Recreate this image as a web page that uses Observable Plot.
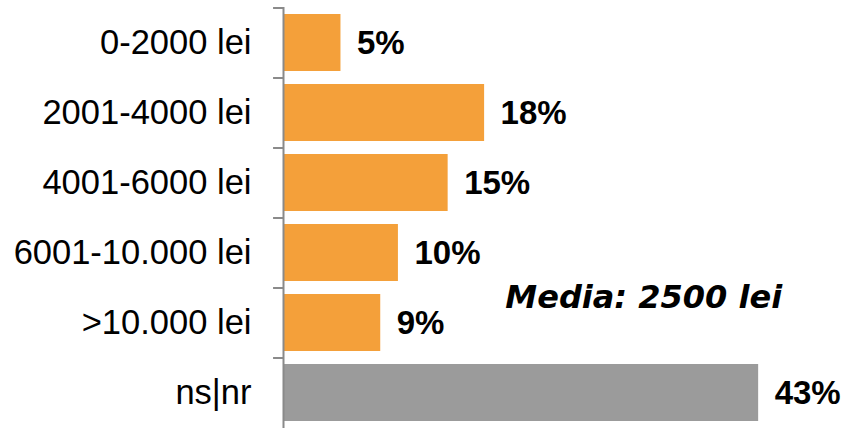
<!DOCTYPE html>
<html>
<head>
<meta charset="utf-8">
<script src="https://cdn.jsdelivr.net/npm/d3@7"></script>
<script src="https://cdn.jsdelivr.net/npm/@observablehq/plot@0.6"></script>
<style>
  html, body { margin: 0; padding: 0; background: #fff; }
  #chart { width: 846px; height: 428px; overflow: hidden; }
</style>
</head>
<body>
<div id="chart"></div>
<script>
const categories = ["0-2000 lei", "2001-4000 lei", "4001-6000 lei", "6001-10.000 lei", ">10.000 lei", "ns|nr"];
const values = [5.2, 18.2, 14.9, 10.4, 8.8, 43];
const valueLabels = ["5%", "18%", "15%", "10%", "9%", "43%"];
const barColors = ["#F4A03A", "#F4A03A", "#F4A03A", "#F4A03A", "#F4A03A", "#9B9B9B"];
const mediaText = "Media: 2500 lei";

const data = categories.map((c, i) => ({cat: c, value: values[i], label: valueLabels[i], color: barColors[i]}));

const chart = Plot.plot({
  width: 846,
  height: 428,
  marginLeft: 283,
  marginRight: 10.5,
  marginTop: 7,
  marginBottom: 0,
  style: {fontFamily: "'Liberation Sans', Arial, sans-serif", background: "#fff"},
  x: {domain: [0, 50], axis: null},
  y: {domain: categories, paddingInner: 0.19, paddingOuter: 0.1, axis: null, label: null},
  color: {type: "identity"},
  marks: [
    Plot.barX(data, {x: "value", y: "cat", fill: "color"}),
    Plot.text(data, {x: "value", y: "cat", text: "label", textAnchor: "start", dx: 16,
      fontWeight: "bold", fontSize: 33, fill: "#000"}),
    Plot.ruleY(categories, {y: d => d, x1: -0.9, x2: 0, dy: -35, stroke: "#8a8a8a", strokeWidth: 2}),
    Plot.ruleX([0], {stroke: "#8a8a8a", strokeWidth: 2}),
    Plot.axisY({tickSize: 0, tickPadding: 32, fontSize: 34.5, fill: "#000", label: null}),
    Plot.text([mediaText], {x: 32.6, y: [">10.000 lei"], text: d => d, dy: -25.5,
      fontFamily: "'DejaVu Sans', sans-serif", fontWeight: "bold", fontStyle: "italic", fontSize: 32, fill: "#000"})
  ]
});
document.getElementById("chart").appendChild(chart);
</script>
</body>
</html>
